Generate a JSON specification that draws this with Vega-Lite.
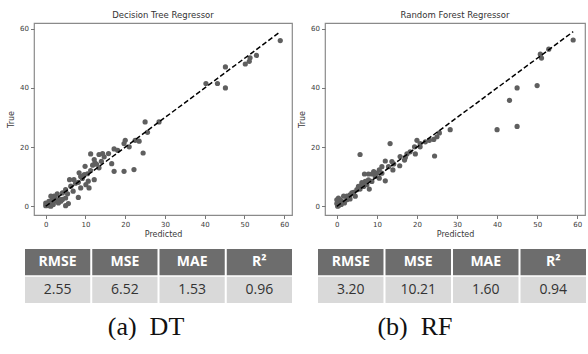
{
  "$schema": "https://vega.github.io/schema/vega-lite/v6.json",
  "padding": {"left": 6, "top": 9, "right": 0, "bottom": 0},
  "background": "white",
  "datasets": {
    "dt": [
      {"pred": 59, "true": 56}, {"pred": 53, "true": 51}, {"pred": 51.4, "true": 50.2}, {"pred": 51.2, "true": 49}, {"pred": 50.2, "true": 48.1},
      {"pred": 45.2, "true": 47.1}, {"pred": 40.3, "true": 41.5}, {"pred": 43.2, "true": 41.5}, {"pred": 45.2, "true": 40},
      {"pred": 25, "true": 28.5}, {"pred": 28.5, "true": 28.5}, {"pred": 25.6, "true": 25}, {"pred": 24.5, "true": 18}, {"pred": 23.5, "true": 22},
      {"pred": 22.5, "true": 22.3}, {"pred": 20, "true": 22.3}, {"pred": 21, "true": 20.1}, {"pred": 19.7, "true": 21.2}, {"pred": 22.2, "true": 12.4},
      {"pred": 19.7, "true": 11.8}, {"pred": 17.2, "true": 11.8}, {"pred": 17.2, "true": 19.4}, {"pred": 18.1, "true": 18.9}, {"pred": 16.6, "true": 14.4},
      {"pred": 15.8, "true": 17.8}, {"pred": 14.3, "true": 17.8}, {"pred": 13.4, "true": 17.5}, {"pred": 14.7, "true": 16.7}, {"pred": 11.3, "true": 17.7},
      {"pred": 12.2, "true": 15.8}, {"pred": 12.4, "true": 14.7}, {"pred": 11.8, "true": 13.9}, {"pred": 13.4, "true": 13}, {"pred": 11.3, "true": 12.1},
      {"pred": 10.5, "true": 11}, {"pred": 9.9, "true": 13.5}, {"pred": 12.2, "true": 9}, {"pred": 10.9, "true": 6.2}, {"pred": 10.7, "true": 8.5},
      {"pred": 8.8, "true": 10.1}, {"pred": 8.4, "true": 11.3}, {"pred": 9.7, "true": 10.7}, {"pred": 10.1, "true": 7.3}, {"pred": 8.2, "true": 8.1},
      {"pred": 8.8, "true": 6.2}, {"pred": 8.2, "true": 3}, {"pred": 7.1, "true": 9}, {"pred": 6, "true": 9}, {"pred": 6.9, "true": 5.1},
      {"pred": 6.3, "true": 6.8}, {"pred": 5, "true": 5.6}, {"pred": 5.5, "true": 4.2}, {"pred": 5, "true": 2.8}, {"pred": 5.7, "true": 0.9},
      {"pred": 5, "true": 0.2}, {"pred": 4.2, "true": 4.5}, {"pred": 2.9, "true": 4.2}, {"pred": 2.1, "true": 3.4}, {"pred": 1.7, "true": 2.3},
      {"pred": 1.3, "true": 3.4}, {"pred": 0.8, "true": 1.7}, {"pred": 0.4, "true": 0.9}, {"pred": 0, "true": 0.2}, {"pred": 0, "true": 1.1},
      {"pred": 0.8, "true": 0.2}, {"pred": 1.5, "true": 0.9}, {"pred": 2.5, "true": 1.7}, {"pred": 3.4, "true": 2.3}, {"pred": 3.8, "true": 1.7},
      {"pred": 3.2, "true": 1.1}, {"pred": 1.9, "true": 0.6}, {"pred": 1.3, "true": 0}, {"pred": 4.2, "true": 2.3}, {"pred": 2.3, "true": 2.8},
      {"pred": 12.8, "true": 14.2}, {"pred": 14, "true": 15.2}, {"pred": 7.5, "true": 7.8}, {"pred": 9.2, "true": 9.4}
    ],
    "rf": [
      {"pred": 59, "true": 56.2}, {"pred": 52.9, "true": 53.1}, {"pred": 50.8, "true": 51.4}, {"pred": 51.1, "true": 50.1}, {"pred": 50, "true": 40.8},
      {"pred": 45, "true": 40}, {"pred": 43.1, "true": 35.8}, {"pred": 45, "true": 27}, {"pred": 40, "true": 25.9}, {"pred": 28.3, "true": 25.9},
      {"pred": 25.6, "true": 24.8}, {"pred": 25, "true": 23.5}, {"pred": 24.2, "true": 22.6}, {"pred": 23.1, "true": 22.3}, {"pred": 22.1, "true": 21.8},
      {"pred": 20, "true": 22.3}, {"pred": 20.8, "true": 21.2}, {"pred": 19.4, "true": 20.1}, {"pred": 19.6, "true": 17.7}, {"pred": 24.4, "true": 17},
      {"pred": 17.5, "true": 17.7}, {"pred": 17.1, "true": 16.5}, {"pred": 16.9, "true": 15.6}, {"pred": 15.8, "true": 16.8}, {"pred": 15.7, "true": 13.7},
      {"pred": 13.3, "true": 21.2}, {"pred": 13.75, "true": 15.1}, {"pred": 14, "true": 12.3}, {"pred": 12.1, "true": 15.3}, {"pred": 12.1, "true": 8.6},
      {"pred": 11.25, "true": 13.4}, {"pred": 10.6, "true": 12.3}, {"pred": 10, "true": 11.2}, {"pred": 9.2, "true": 11.7}, {"pred": 8.75, "true": 10.9},
      {"pred": 7.9, "true": 10.9}, {"pred": 6.9, "true": 10.9}, {"pred": 9.6, "true": 10.1}, {"pred": 10.6, "true": 9.5}, {"pred": 7.9, "true": 8.9},
      {"pred": 7.1, "true": 8.4}, {"pred": 8.1, "true": 5.8}, {"pred": 5.8, "true": 17.5}, {"pred": 6.25, "true": 7.3}, {"pred": 5.4, "true": 6.7},
      {"pred": 5, "true": 5.6}, {"pred": 4.2, "true": 4.7}, {"pred": 3.3, "true": 3.9}, {"pred": 2.5, "true": 3.4}, {"pred": 1.7, "true": 3.4},
      {"pred": 2.5, "true": 2.2}, {"pred": 1.25, "true": 1.7}, {"pred": 0.4, "true": 2.8}, {"pred": 0.25, "true": 1.7}, {"pred": 0, "true": 0.9},
      {"pred": 0.4, "true": 0.2}, {"pred": 1.1, "true": 0.6}, {"pred": 1.9, "true": 1.1}, {"pred": 3.3, "true": 2.5}, {"pred": 4.6, "true": 3.4},
      {"pred": 0.8, "true": 2.2}, {"pred": 0, "true": 2.2}, {"pred": 6.25, "true": 8}, {"pred": 3.75, "true": 4.5}, {"pred": 11.25, "true": 11.2},
      {"pred": 12.9, "true": 13.4}, {"pred": 14.2, "true": 14.3}, {"pred": 8.75, "true": 8.4}, {"pred": 7.5, "true": 7.3}, {"pred": 20.8, "true": 20.1},
      {"pred": 18.3, "true": 18.4}, {"pred": 5.8, "true": 5.8}, {"pred": 6.7, "true": 6.7}, {"pred": 0.2, "true": 0}, {"pred": 0.6, "true": 0.5}
    ],
    "diag": [{"v": 0}, {"v": 59}],
    "tabDT": [
      {"metric": "RMSE", "row": "header", "label": "RMSE"}, {"metric": "MSE", "row": "header", "label": "MSE"},
      {"metric": "MAE", "row": "header", "label": "MAE"}, {"metric": "R2", "row": "header", "label": "R²"},
      {"metric": "RMSE", "row": "value", "label": "2.55"}, {"metric": "MSE", "row": "value", "label": "6.52"},
      {"metric": "MAE", "row": "value", "label": "1.53"}, {"metric": "R2", "row": "value", "label": "0.96"}
    ],
    "tabRF": [
      {"metric": "RMSE", "row": "header", "label": "RMSE"}, {"metric": "MSE", "row": "header", "label": "MSE"},
      {"metric": "MAE", "row": "header", "label": "MAE"}, {"metric": "R2", "row": "header", "label": "R²"},
      {"metric": "RMSE", "row": "value", "label": "3.20"}, {"metric": "MSE", "row": "value", "label": "10.21"},
      {"metric": "MAE", "row": "value", "label": "1.60"}, {"metric": "R2", "row": "value", "label": "0.94"}
    ]
  },
  "hconcat": [
    {
      "vconcat": [
        {
          "width": 258, "height": 192,
          "title": "Decision Tree Regressor",
          "layer": [
            {
              "data": {"name": "dt"},
              "mark": {"type": "circle", "size": 27, "opacity": 1, "color": "#5f5f5f"},
              "encoding": {
                "x": {"field": "pred", "type": "quantitative", "scale": {"domain": [-2.95, 61.95], "nice": false, "zero": false}, "axis": {"title": "Predicted", "values": [0, 10, 20, 30, 40, 50, 60]}},
                "y": {"field": "true", "type": "quantitative", "scale": {"domain": [-2.95, 61.95], "nice": false, "zero": false}, "axis": {"title": "True", "values": [0, 10, 20, 30, 40, 50, 60], "titlePadding": 4.5}}
              }
            },
            {
              "data": {"name": "diag"},
              "mark": {"type": "line", "color": "black", "strokeWidth": 1.5, "strokeDash": [5, 2.5]},
              "encoding": {
                "x": {"field": "v", "type": "quantitative"},
                "y": {"field": "v", "type": "quantitative"}
              }
            }
          ]
        },
        {
          "width": 258, "height": 54,
          "data": {"name": "tabDT"},
          "view": {"stroke": null},
          "title": {"text": "(a)\u00a0\u00a0DT", "orient": "bottom", "anchor": "middle", "font": "Liberation Serif", "fontSize": 26, "fontWeight": "normal", "color": "#111111", "offset": 11, "dx": -17},
          "encoding": {
            "x": {"field": "metric", "type": "nominal", "sort": ["RMSE", "MSE", "MAE", "R2"], "axis": null, "scale": {"range": [-9, 258], "paddingInner": 0.03, "paddingOuter": 0}},
            "y": {"field": "row", "type": "nominal", "sort": ["header", "value"], "axis": null, "scale": {"paddingInner": 0.05, "paddingOuter": 0}}
          },
          "layer": [
            {"mark": {"type": "rect"}, "encoding": {"color": {"field": "row", "type": "nominal", "scale": {"domain": ["header", "value"], "range": ["#6d6d6d", "#d9d9d9"]}, "legend": null}}},
            {"transform": [{"filter": "datum.row == 'header'"}], "mark": {"type": "text", "font": "Open Sans", "fontSize": 14, "fontWeight": "bold", "color": "white"}, "encoding": {"text": {"field": "label"}}},
            {"transform": [{"filter": "datum.row == 'value'"}], "mark": {"type": "text", "font": "Open Sans", "fontSize": 14, "color": "#333333"}, "encoding": {"text": {"field": "label"}}}
          ]
        }
      ],
      "spacing": 9
    },
    {
      "vconcat": [
        {
          "width": 260, "height": 192,
          "title": "Random Forest Regressor",
          "layer": [
            {
              "data": {"name": "rf"},
              "mark": {"type": "circle", "size": 27, "opacity": 1, "color": "#5f5f5f"},
              "encoding": {
                "x": {"field": "pred", "type": "quantitative", "scale": {"domain": [-2.95, 61.95], "nice": false, "zero": false}, "axis": {"title": "Predicted", "values": [0, 10, 20, 30, 40, 50, 60]}},
                "y": {"field": "true", "type": "quantitative", "scale": {"domain": [-2.95, 61.95], "nice": false, "zero": false}, "axis": {"title": "True", "values": [0, 10, 20, 30, 40, 50, 60], "titlePadding": 4.5}}
              }
            },
            {
              "data": {"name": "diag"},
              "mark": {"type": "line", "color": "black", "strokeWidth": 1.5, "strokeDash": [5, 2.5]},
              "encoding": {
                "x": {"field": "v", "type": "quantitative"},
                "y": {"field": "v", "type": "quantitative"}
              }
            }
          ]
        },
        {
          "width": 260, "height": 54,
          "data": {"name": "tabRF"},
          "view": {"stroke": null},
          "title": {"text": "(b)\u00a0\u00a0RF", "orient": "bottom", "anchor": "middle", "font": "Liberation Serif", "fontSize": 26, "fontWeight": "normal", "color": "#111111", "offset": 11, "dx": -40},
          "encoding": {
            "x": {"field": "metric", "type": "nominal", "sort": ["RMSE", "MSE", "MAE", "R2"], "axis": null, "scale": {"range": [-7, 261], "paddingInner": 0.03, "paddingOuter": 0}},
            "y": {"field": "row", "type": "nominal", "sort": ["header", "value"], "axis": null, "scale": {"paddingInner": 0.05, "paddingOuter": 0}}
          },
          "layer": [
            {"mark": {"type": "rect"}, "encoding": {"color": {"field": "row", "type": "nominal", "scale": {"domain": ["header", "value"], "range": ["#6d6d6d", "#d9d9d9"]}, "legend": null}}},
            {"transform": [{"filter": "datum.row == 'header'"}], "mark": {"type": "text", "font": "Open Sans", "fontSize": 14, "fontWeight": "bold", "color": "white"}, "encoding": {"text": {"field": "label"}}},
            {"transform": [{"filter": "datum.row == 'value'"}], "mark": {"type": "text", "font": "Open Sans", "fontSize": 14, "color": "#333333"}, "encoding": {"text": {"field": "label"}}}
          ]
        }
      ],
      "spacing": 9
    }
  ],
  "spacing": 4,
  "config": {
    "view": {"stroke": "#8a8a8a", "strokeWidth": 1.2},
    "axis": {
      "labelFont": "DejaVu Sans", "labelFontSize": 7, "labelColor": "#3a3a3a",
      "titleFont": "DejaVu Sans", "titleFontSize": 8, "titleFontWeight": "normal", "titleColor": "#3a3a3a",
      "tickColor": "#777777", "tickSize": 3.5, "tickWidth": 1, "domain": false, "grid": false,
      "labelPadding": 2, "titlePadding": 3
    },
    "title": {"font": "DejaVu Sans", "fontSize": 8.5, "fontWeight": "normal", "color": "#333333", "offset": 4}
  }
}
